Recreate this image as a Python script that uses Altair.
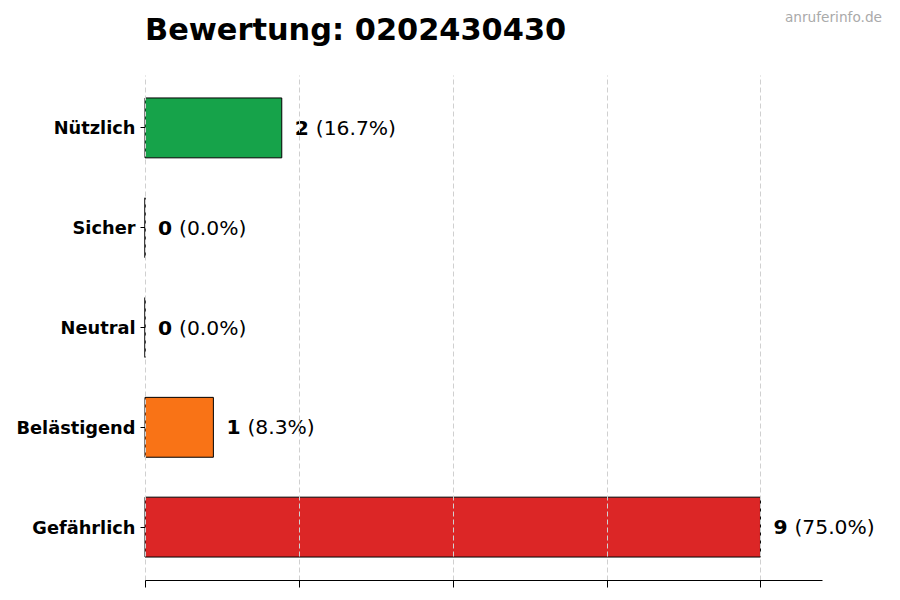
import pandas as pd
import altair as alt

# ratings for the number
categories = ['Nützlich', 'Sicher', 'Neutral', 'Belästigend', 'Gefährlich']
counts = [2, 0, 0, 1, 9]
colors = ['#16a34a', '#3b82f6', '#9ca3af', '#f97316', '#dc2626']
x_ticks = [0, 2.25, 4.5, 6.75, 9]
title_text = 'Bewertung: 0202430430'
source_text = 'anruferinfo.de'

total = sum(counts)
df = pd.DataFrame({'Kategorie': categories, 'Anzahl': counts})
df['Prozent'] = ['({:.1f}%)'.format(c / total * 100) for c in counts]

font = 'DejaVu Sans'

base = alt.Chart(df).encode(
    y=alt.Y('Kategorie:N', sort=categories, title=None,
            scale=alt.Scale(paddingInner=0.4, paddingOuter=0.23),
            axis=alt.Axis(labelFont=font, labelFontSize=17.8, labelFontWeight='bold',
                          labelColor='black', tickColor='black', tickSize=5,
                          labelPadding=5, labelOffset=1.5, domain=False, grid=False)),
    x=alt.X('Anzahl:Q', title=None,
            scale=alt.Scale(domain=[0, 9.9], nice=False, zero=True),
            axis=alt.Axis(values=x_ticks, labels=False, tickColor='black', tickSize=7,
                          domainColor='black', grid=True, gridColor='#d0d0d0',
                          gridDash=[5, 3], zindex=1)),
)

bars = base.mark_bar(stroke='black', strokeWidth=1).encode(
    color=alt.Color('Kategorie:N', scale=alt.Scale(domain=categories, range=colors), legend=None)
)

num_text = base.mark_text(align='left', baseline='middle', dx=13, dy=1, font=font,
                          fontSize=20.3, fontWeight='bold', color='black').encode(
    text='Anzahl:Q'
)

pct_text = base.mark_text(align='left', baseline='middle', dx=34, dy=1, font=font,
                          fontSize=20.3, color='black').encode(
    text='Prozent:N'
)

watermark = alt.Chart(pd.DataFrame({'t': [source_text]})).mark_text(
    align='right', baseline='middle', font=font, fontSize=13.7, color='#aaaaaa'
).encode(
    text='t:N', x=alt.value(737), y=alt.value(-57)
)

title = alt.Chart(pd.DataFrame({'t': [title_text]})).mark_text(
    align='left', baseline='alphabetic', font=font, fontSize=30.4,
    fontWeight='bold', color='black'
).encode(
    text='t:N', x=alt.value(0), y=alt.value(-35)
)

chart = (bars + num_text + pct_text + watermark + title).properties(
    width=677,
    height=505,
    autosize=alt.AutoSizeParams(type='none'),
    padding={'left': 137, 'top': 67, 'right': 70, 'bottom': 12},
).configure_view(strokeWidth=0)

chart.save("out.html", embed_options={"renderer": "svg", "actions": False})
